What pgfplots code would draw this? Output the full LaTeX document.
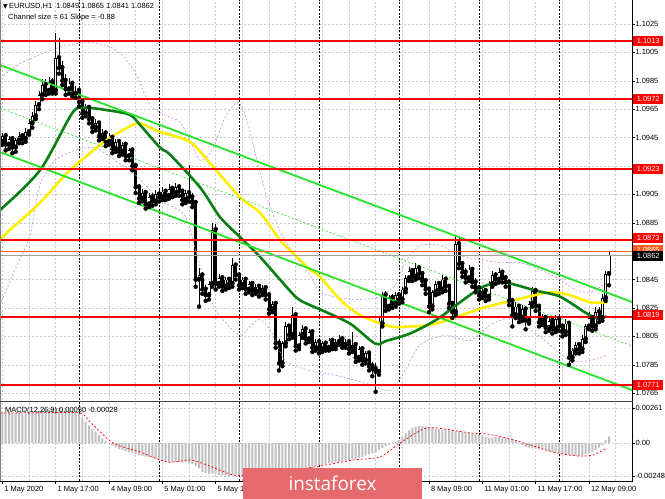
\documentclass[border=0pt]{standalone}
\usepackage{pgfplots}
\pgfplotsset{compat=1.18}
\usepackage{pgfplotstable}
\usepackage{fontspec}
\setmainfont{Liberation Sans}
\newfontfamily\dejavu{DejaVu Sans}
\newfontfamily\wmfont{Open Sans}
\definecolor{gridgray}{RGB}{200,200,200}
\definecolor{chgreen}{RGB}{40,225,40}
\definecolor{magreen}{RGB}{10,125,20}
\definecolor{mayellow}{RGB}{255,238,0}
\definecolor{bandviolet}{RGB}{195,135,240}
\definecolor{macdgray}{RGB}{192,192,192}
\definecolor{wmred}{RGB}{228,106,110}
\definecolor{askorange}{RGB}{255,90,30}

\pgfplotstableread[row sep=\\]{
i o h l c\\
0 1.0945 1.0949 1.0939 1.0942\\ 1 1.0942 1.0948 1.0940 1.0946\\ 2 1.0946 1.0948 1.0936 1.0940\\ 3 1.0940 1.0946 1.0937 1.0944\\
4 1.0944 1.0946 1.0934 1.0938\\ 5 1.0938 1.0945 1.0935 1.0943\\ 6 1.0943 1.0949 1.0941 1.0946\\ 7 1.0946 1.0948 1.0941 1.0944\\
8 1.0944 1.0952 1.0942 1.0949\\ 9 1.0949 1.0958 1.0947 1.0955\\ 10 1.0955 1.0963 1.0952 1.0960\\ 11 1.0960 1.0971 1.0958 1.0968\\
12 1.0968 1.0978 1.0965 1.0975\\ 13 1.0975 1.0986 1.0972 1.0982\\ 14 1.0982 1.0986 1.0975 1.0978\\ 15 1.0978 1.0988 1.0976 1.0984\\
16 1.0984 1.0987 1.0976 1.0978\\ 17 1.0978 1.1019 1.0976 1.1001\\ 18 1.1001 1.1015 1.0990 1.0994\\ 19 1.0994 1.0999 1.0982 1.0985\\
20 1.0985 1.0990 1.0975 1.0979\\ 21 1.0979 1.0987 1.0976 1.0983\\ 22 1.0983 1.0985 1.0974 1.0976\\ 23 1.0976 1.0981 1.0973 1.0978\\
24 1.0978 1.0981 1.0967 1.0970\\ 25 1.0970 1.0972 1.0959 1.0962\\ 26 1.0962 1.0969 1.0960 1.0966\\ 27 1.0966 1.0968 1.0955 1.0958\\
28 1.0958 1.0960 1.0949 1.0952\\ 29 1.0952 1.0958 1.0950 1.0955\\ 30 1.0955 1.0957 1.0943 1.0946\\ 31 1.0946 1.0951 1.0944 1.0948\\
32 1.0948 1.0950 1.0939 1.0942\\ 33 1.0942 1.0948 1.0940 1.0945\\ 34 1.0945 1.0947 1.0934 1.0937\\ 35 1.0937 1.0944 1.0935 1.0942\\
36 1.0942 1.0944 1.0932 1.0935\\ 37 1.0935 1.0942 1.0933 1.0940\\ 38 1.0940 1.0942 1.0929 1.0932\\ 39 1.0932 1.0938 1.0929 1.0936\\
40 1.0936 1.0938 1.0922 1.0925\\ 41 1.0925 1.0927 1.0906 1.0910\\ 42 1.0910 1.0912 1.0899 1.0902\\ 43 1.0902 1.0909 1.0900 1.0906\\
44 1.0906 1.0908 1.0895 1.0898\\ 45 1.0898 1.0906 1.0896 1.0903\\ 46 1.0903 1.0906 1.0897 1.0900\\ 47 1.0900 1.0908 1.0898 1.0905\\
48 1.0905 1.0908 1.0900 1.0903\\ 49 1.0903 1.0910 1.0901 1.0907\\ 50 1.0907 1.0909 1.0901 1.0904\\ 51 1.0904 1.0912 1.0902 1.0909\\
52 1.0909 1.0911 1.0903 1.0906\\ 53 1.0906 1.0913 1.0904 1.0910\\ 54 1.0910 1.0912 1.0904 1.0907\\ 55 1.0907 1.0909 1.0898 1.0901\\
56 1.0901 1.0908 1.0899 1.0906\\ 57 1.0906 1.0926 1.0900 1.0903\\ 58 1.0903 1.0906 1.0896 1.0899\\ 59 1.0899 1.0901 1.0840 1.0845\\
60 1.0845 1.0853 1.0826 1.0848\\ 61 1.0848 1.0850 1.0835 1.0838\\ 62 1.0838 1.0841 1.0830 1.0834\\ 63 1.0834 1.0844 1.0831 1.0842\\
64 1.0842 1.0885 1.0840 1.0880\\ 65 1.0880 1.0884 1.0838 1.0842\\ 66 1.0842 1.0849 1.0840 1.0846\\ 67 1.0846 1.0848 1.0837 1.0840\\
68 1.0840 1.0847 1.0838 1.0845\\ 69 1.0845 1.0847 1.0839 1.0842\\ 70 1.0842 1.0860 1.0840 1.0855\\ 71 1.0855 1.0857 1.0845 1.0848\\
72 1.0848 1.0850 1.0838 1.0841\\ 73 1.0841 1.0847 1.0839 1.0845\\ 74 1.0845 1.0847 1.0835 1.0838\\ 75 1.0838 1.0844 1.0836 1.0842\\
76 1.0842 1.0844 1.0834 1.0837\\ 77 1.0837 1.0842 1.0835 1.0840\\ 78 1.0840 1.0842 1.0833 1.0836\\ 79 1.0836 1.0841 1.0834 1.0839\\
80 1.0839 1.0841 1.0831 1.0834\\ 81 1.0834 1.0836 1.0821 1.0824\\ 82 1.0824 1.0830 1.0822 1.0828\\ 83 1.0828 1.0830 1.0797 1.0800\\
84 1.0800 1.0803 1.0781 1.0786\\ 85 1.0786 1.0802 1.0784 1.0800\\ 86 1.0800 1.0815 1.0798 1.0812\\ 87 1.0812 1.0814 1.0803 1.0806\\
88 1.0806 1.0826 1.0804 1.0820\\ 89 1.0820 1.0822 1.0795 1.0798\\ 90 1.0798 1.0808 1.0796 1.0806\\ 91 1.0806 1.0813 1.0804 1.0810\\
92 1.0810 1.0812 1.0800 1.0803\\ 93 1.0803 1.0810 1.0801 1.0808\\ 94 1.0808 1.0810 1.0794 1.0797\\ 95 1.0797 1.0803 1.0795 1.0801\\
96 1.0801 1.0803 1.0793 1.0796\\ 97 1.0796 1.0802 1.0794 1.0800\\ 98 1.0800 1.0802 1.0795 1.0797\\ 99 1.0797 1.0804 1.0795 1.0802\\
100 1.0802 1.0804 1.0796 1.0798\\ 101 1.0798 1.0803 1.0796 1.0801\\ 102 1.0801 1.0806 1.0799 1.0803\\ 103 1.0803 1.0805 1.0797 1.0799\\
104 1.0799 1.0803 1.0797 1.0801\\ 105 1.0801 1.0803 1.0793 1.0796\\ 106 1.0796 1.0808 1.0794 1.0799\\ 107 1.0799 1.0801 1.0787 1.0790\\
108 1.0790 1.0798 1.0788 1.0796\\ 109 1.0796 1.0798 1.0785 1.0788\\ 110 1.0788 1.0795 1.0786 1.0793\\ 111 1.0793 1.0795 1.0781 1.0784\\
112 1.0784 1.0787 1.0777 1.0782\\ 113 1.0782 1.0786 1.0766 1.0780\\ 114 1.0780 1.0818 1.0778 1.0814\\ 115 1.0814 1.0836 1.0812 1.0834\\
116 1.0834 1.0837 1.0823 1.0826\\ 117 1.0826 1.0834 1.0824 1.0832\\ 118 1.0832 1.0835 1.0825 1.0828\\ 119 1.0828 1.0836 1.0826 1.0834\\
120 1.0834 1.0836 1.0828 1.0831\\ 121 1.0831 1.0840 1.0829 1.0838\\ 122 1.0838 1.0848 1.0836 1.0846\\ 123 1.0846 1.0854 1.0844 1.0851\\
124 1.0851 1.0853 1.0844 1.0847\\ 125 1.0847 1.0857 1.0845 1.0853\\ 126 1.0853 1.0855 1.0846 1.0849\\ 127 1.0849 1.0851 1.0841 1.0844\\
128 1.0844 1.0846 1.0835 1.0838\\ 129 1.0838 1.0840 1.0822 1.0826\\ 130 1.0826 1.0838 1.0824 1.0836\\ 131 1.0836 1.0844 1.0834 1.0842\\
132 1.0842 1.0844 1.0835 1.0838\\ 133 1.0838 1.0848 1.0836 1.0845\\ 134 1.0845 1.0847 1.0837 1.0840\\ 135 1.0840 1.0842 1.0825 1.0828\\
136 1.0828 1.0830 1.0818 1.0822\\ 137 1.0822 1.0876 1.0820 1.0870\\ 138 1.0870 1.0874 1.0853 1.0856\\ 139 1.0856 1.0858 1.0847 1.0850\\
140 1.0850 1.0853 1.0843 1.0846\\ 141 1.0846 1.0855 1.0844 1.0852\\ 142 1.0852 1.0854 1.0840 1.0843\\ 143 1.0843 1.0846 1.0836 1.0839\\
144 1.0839 1.0841 1.0831 1.0834\\ 145 1.0834 1.0840 1.0832 1.0837\\ 146 1.0837 1.0839 1.0830 1.0833\\ 147 1.0833 1.0844 1.0831 1.0842\\
148 1.0842 1.0851 1.0840 1.0848\\ 149 1.0848 1.0850 1.0842 1.0845\\ 150 1.0845 1.0853 1.0843 1.0850\\ 151 1.0850 1.0852 1.0843 1.0846\\
152 1.0846 1.0848 1.0840 1.0843\\ 153 1.0843 1.0845 1.0827 1.0830\\ 154 1.0830 1.0832 1.0812 1.0820\\ 155 1.0820 1.0829 1.0818 1.0826\\
156 1.0826 1.0828 1.0815 1.0818\\ 157 1.0818 1.0827 1.0816 1.0824\\ 158 1.0824 1.0826 1.0810 1.0816\\ 159 1.0816 1.0830 1.0814 1.0828\\
160 1.0828 1.0840 1.0826 1.0837\\ 161 1.0837 1.0839 1.0823 1.0826\\ 162 1.0826 1.0828 1.0812 1.0815\\ 163 1.0815 1.0821 1.0813 1.0818\\
164 1.0818 1.0820 1.0808 1.0811\\ 165 1.0811 1.0819 1.0809 1.0816\\ 166 1.0816 1.0818 1.0807 1.0810\\ 167 1.0810 1.0820 1.0808 1.0817\\
168 1.0817 1.0819 1.0809 1.0812\\ 169 1.0812 1.0814 1.0805 1.0808\\ 170 1.0808 1.0817 1.0806 1.0814\\ 171 1.0814 1.0816 1.0785 1.0790\\
172 1.0790 1.0797 1.0788 1.0795\\ 173 1.0795 1.0801 1.0793 1.0799\\ 174 1.0799 1.0801 1.0793 1.0796\\ 175 1.0796 1.0806 1.0794 1.0803\\
176 1.0803 1.0814 1.0801 1.0812\\ 177 1.0812 1.0822 1.0810 1.0818\\ 178 1.0818 1.0820 1.0809 1.0812\\ 179 1.0812 1.0826 1.0810 1.0822\\
180 1.0822 1.0826 1.0815 1.0818\\ 181 1.0818 1.0835 1.0816 1.0832\\ 182 1.0832 1.0851 1.0830 1.0849\\ 183 1.0849 1.0865 1.0841 1.0862\\
}\candles

\pgfplotstableread[row sep=\\]{
i m\\
0 0.00230\\ 1 0.00232\\ 2 0.00228\\ 3 0.00230\\ 4 0.00226\\ 5 0.00224\\ 6 0.00222\\ 7 0.00220\\ 8 0.00220\\ 9 0.00222\\
10 0.00226\\ 11 0.00232\\ 12 0.00238\\ 13 0.00244\\ 14 0.00246\\ 15 0.00250\\ 16 0.00250\\ 17 0.00261\\ 18 0.00260\\ 19 0.00256\\
20 0.00250\\ 21 0.00246\\ 22 0.00238\\ 23 0.00232\\ 24 0.00220\\ 25 0.00190\\ 26 0.00160\\ 27 0.00132\\ 28 0.00105\\ 29 0.00085\\
30 0.00060\\ 31 0.00035\\ 32 0.00015\\ 33 0.00002\\ 34 -0.00020\\ 35 -0.00035\\ 36 -0.00045\\ 37 -0.00052\\ 38 -0.00062\\ 39 -0.00068\\
40 -0.00075\\ 41 -0.00085\\ 42 -0.00092\\ 43 -0.00098\\ 44 -0.00102\\ 45 -0.00105\\ 46 -0.00110\\ 47 -0.00118\\ 48 -0.00125\\ 49 -0.00132\\
50 -0.00140\\ 51 -0.00142\\ 52 -0.00142\\ 53 -0.00140\\ 54 -0.00140\\ 55 -0.00142\\ 56 -0.00145\\ 57 -0.00150\\ 58 -0.00155\\ 59 -0.00170\\
60 -0.00190\\ 61 -0.00215\\ 62 -0.00225\\ 63 -0.00232\\ 64 -0.00228\\ 65 -0.00235\\ 66 -0.00240\\ 67 -0.00242\\ 68 -0.00244\\ 69 -0.00246\\
70 -0.00240\\ 71 -0.00242\\ 72 -0.00244\\ 73 -0.00245\\ 74 -0.00246\\ 75 -0.00246\\ 76 -0.00245\\ 77 -0.00244\\ 78 -0.00242\\ 79 -0.00240\\
80 -0.00240\\ 81 -0.00242\\ 82 -0.00244\\ 83 -0.00246\\ 84 -0.00248\\ 85 -0.00245\\ 86 -0.00240\\ 87 -0.00235\\ 88 -0.00228\\ 89 -0.00225\\
90 -0.00218\\ 91 -0.00210\\ 92 -0.00200\\ 93 -0.00192\\ 94 -0.00185\\ 95 -0.00175\\ 96 -0.00164\\ 97 -0.00160\\ 98 -0.00155\\ 99 -0.00152\\
100 -0.00148\\ 101 -0.00145\\ 102 -0.00142\\ 103 -0.00138\\ 104 -0.00132\\ 105 -0.00128\\ 106 -0.00122\\ 107 -0.00118\\ 108 -0.00112\\ 109 -0.00105\\
110 -0.00095\\ 111 -0.00085\\ 112 -0.00075\\ 113 -0.00070\\ 114 -0.00050\\ 115 -0.00037\\ 116 -0.00025\\ 117 -0.00012\\ 118 0.00002\\ 119 0.00010\\
120 0.00022\\ 121 0.00045\\ 122 0.00075\\ 123 0.00095\\ 124 0.00112\\ 125 0.00122\\ 126 0.00127\\ 127 0.00125\\ 128 0.00122\\ 129 0.00119\\
130 0.00112\\ 131 0.00108\\ 132 0.00104\\ 133 0.00102\\ 134 0.00100\\ 135 0.00097\\ 136 0.00092\\ 137 0.00090\\ 138 0.00088\\ 139 0.00082\\
140 0.00078\\ 141 0.00075\\ 142 0.00070\\ 143 0.00065\\ 144 0.00060\\ 145 0.00052\\ 146 0.00045\\ 147 0.00037\\ 148 0.00040\\ 149 0.00043\\
150 0.00045\\ 151 0.00042\\ 152 0.00038\\ 153 0.00034\\ 154 0.00030\\ 155 0.00015\\ 156 0.00002\\ 157 -0.00015\\ 158 -0.00030\\ 159 -0.00035\\
160 -0.00040\\ 161 -0.00042\\ 162 -0.00045\\ 163 -0.00050\\ 164 -0.00055\\ 165 -0.00060\\ 166 -0.00065\\ 167 -0.00070\\ 168 -0.00075\\ 169 -0.00080\\
170 -0.00085\\ 171 -0.00090\\ 172 -0.00093\\ 173 -0.00096\\ 174 -0.00097\\ 175 -0.00092\\ 176 -0.00085\\ 177 -0.00075\\ 178 -0.00068\\ 179 -0.00052\\
180 -0.00035\\ 181 -0.00015\\ 182 0.00020\\ 183 0.00050\\
}\macd

\begin{document}
\begin{tikzpicture}
\path[use as bounding box] (0bp,0bp) rectangle (665bp,499bp);
\fill[white] (0bp,0bp) rectangle (665bp,499bp);

% ---------------- main price panel ----------------
\begin{axis}[
  at={(0bp,99bp)}, anchor=south west, scale only axis,
  width=632bp, height=400bp,
  xmin=0.3, xmax=189.9, ymin=1.07602, ymax=1.10419,
  axis line style={draw=none},
  xtick={1,17,...,177}, minor xtick={9,25,...,185}, xticklabels={},
  xtick style={draw=none}, minor tick length=0pt,
  xmajorgrids, xminorgrids, ymajorgrids,
  grid style={gridgray, dash pattern=on 2bp off 2bp, line width=0.5bp},
  minor grid style={gridgray, dash pattern=on 2bp off 2bp, line width=0.5bp},
  extra x ticks={24,48,72,96,120,144,168}, extra x tick labels={},
  extra x tick style={grid=major, major grid style={black, dash pattern=on 2bp off 1.5bp, line width=0.6bp}, xtick style={draw=none}},
  ytick={1.0765,1.0785,1.0805,1.0825,1.0845,1.0865,1.0885,1.0905,1.0925,1.0945,1.0965,1.0985,1.1005,1.1025},
  yticklabels={1.0765,1.0785,1.0805,1.0825,1.0845,,1.0885,1.0905,,1.0945,1.0965,1.0985,1.1005,1.1025},
  ytick pos=right, yticklabel pos=right, tick align=outside, major tick length=3bp,
  ytick style={black, line width=0.5bp},
  yticklabel style={font=\fontsize{7.5}{9}\selectfont, anchor=west, xshift=-3bp},
]
% candles: wicks, bodies, hollow interiors of rising candles
\addplot[only marks, mark=none, forget plot, error bars/.cd, y dir=plus, y explicit, error mark=none,
  error bar style={black, line width=0.7bp}]
  table[x=i, y=l, y error plus expr={\thisrow{h}-\thisrow{l}}] {\candles};
\addplot[only marks, mark=none, forget plot, error bars/.cd, y dir=plus, y explicit, error mark=none,
  error bar style={black, line width=3bp}]
  table[x=i, y expr={min(\thisrow{o},\thisrow{c})}, y error plus expr={max(abs(\thisrow{c}-\thisrow{o}),0.00006)}] {\candles};
\addplot[only marks, mark=none, forget plot, error bars/.cd, y dir=plus, y explicit, error mark=none,
  error bar style={white, line width=1.3bp}]
  table[x=i, y expr={\thisrow{o}+0.00006}, y error plus expr={max(\thisrow{c}-\thisrow{o}-0.00012,0)}] {\candles};

% envelope bands
\addplot[bandviolet, line width=0.6bp, dash pattern=on 2bp off 2bp, smooth, tension=0.4] coordinates {
(0.3,1.0987)(6.3,1.0997)(13.8,1.1005)(20.4,1.1010)(27.3,1.1012)(33.3,1.1009)(36.9,1.1003)(40.8,1.0991)(45.3,1.0968)
(49.8,1.0961)(54.3,1.0956)(57.3,1.0943)(60.3,1.0929)(63.9,1.0936)(67.8,1.0959)(71.7,1.0970)(74.4,1.0957)(77.4,1.0929)
(80.7,1.0901)(84.3,1.0879)(88.8,1.0862)(93.3,1.0848)(96.3,1.0836)(102.3,1.0832)(108.3,1.0831)(114.3,1.0833)(118.8,1.0841)
(121.8,1.0857)(126.3,1.0869)(132.3,1.0869)(138.3,1.0862)(144.3,1.0859)(150.3,1.0857)(156.3,1.0857)(162.3,1.0852)
(168.3,1.0845)(172.8,1.0838)(177.3,1.0836)(182.4,1.0843)};
\addplot[bandviolet, line width=0.6bp, dash pattern=on 2bp off 2bp, smooth, tension=0.4] coordinates {
(0.3,1.0827)(4.8,1.0852)(9.3,1.0876)(12.3,1.0912)(16.8,1.0929)(22.8,1.0936)(28.8,1.0938)(34.8,1.0929)(40.8,1.0919)
(48.3,1.0901)(55.8,1.0890)(60.3,1.0855)(64.8,1.0824)(72.3,1.0806)(77.7,1.0817)(81.3,1.0810)(85.8,1.0788)(93.3,1.0781)
(102.3,1.0777)(111.3,1.0771)(117.3,1.0767)(121.8,1.0781)(126.3,1.0799)(133.8,1.0806)(141.3,1.0802)(147.3,1.0813)
(153.3,1.0818)(159.3,1.0810)(165.3,1.0799)(171.3,1.0788)(177.3,1.0788)(182.4,1.0792)};

% moving averages
\addplot[mayellow, line width=2.6bp, smooth, tension=0.5] coordinates {
(0.3,1.0873)(3.3,1.0880)(12.3,1.0899)(20.4,1.0920)(27.3,1.0934)(33.3,1.0945)(41.4,1.0955)(45.3,1.0952)(48.3,1.0949)
(57.3,1.0942)(63.3,1.0927)(72.3,1.0903)(78.3,1.0892)(84.3,1.0873)(89.4,1.0861)(93.3,1.0852)(96.3,1.0847)(102.3,1.0831)
(108.3,1.0820)(117.3,1.0812)(123.3,1.0812)(129.3,1.0813)(135.3,1.0817)(145.2,1.0825)(155.4,1.0831)(165.3,1.0836)
(171.3,1.0834)(177.3,1.0829)(182.4,1.0829)};
\addplot[magreen, line width=2.6bp, smooth, tension=0.5] coordinates {
(0.3,1.0894)(12.3,1.0922)(21.9,1.0962)(25.8,1.0966)(33.3,1.0964)(39.3,1.0961)(42.3,1.0954)(48.3,1.0938)(51.3,1.0933)
(60.3,1.0910)(66.3,1.0889)(72.3,1.0875)(78.3,1.0861)(84.3,1.0845)(89.4,1.0832)(93.3,1.0827)(96.3,1.0824)(105.3,1.0814)
(112.8,1.0800)(116.4,1.0802)(123.3,1.0807)(131.4,1.0817)(138.3,1.0829)(145.2,1.0840)(151.2,1.0843)(155.4,1.0841)
(161.4,1.0837)(168.3,1.0833)(176.4,1.0821)(179.4,1.0818)(182.4,1.0819)};

% regression channel
\addplot[chgreen, line width=1.8bp] coordinates {(0.3,1.09961)(189.9,1.08292)};
\addplot[chgreen, line width=1.8bp] coordinates {(0.3,1.09349)(189.9,1.07672)};
\addplot[chgreen, line width=0.6bp, dash pattern=on 2bp off 2bp] coordinates {(0.3,1.09658)(189.9,1.07982)};

% horizontal levels
\addplot[askorange, line width=0.6bp] coordinates {(0.3,1.08648)(189.9,1.08648)};
\addplot[gridgray!80!black, line width=0.6bp] coordinates {(0.3,1.0862)(189.9,1.0862)};
\addplot[red, line width=2bp] coordinates {(0.3,1.1013)(189.9,1.1013)};
\addplot[red, line width=2bp] coordinates {(0.3,1.0972)(189.9,1.0972)};
\addplot[red, line width=2bp] coordinates {(0.3,1.0923)(189.9,1.0923)};
\addplot[red, line width=2bp] coordinates {(0.3,1.0873)(189.9,1.0873)};
\addplot[red, line width=2bp] coordinates {(0.3,1.0819)(189.9,1.0819)};
\addplot[red, line width=2bp] coordinates {(0.3,1.0771)(189.9,1.0771)};
\end{axis}

% ---------------- MACD panel ----------------
\begin{axis}[
  at={(0bp,18bp)}, anchor=south west, scale only axis,
  width=632bp, height=79bp,
  xmin=0.3, xmax=189.9, ymin=-0.002835, ymax=0.003059,
  axis line style={draw=none},
  xtick={1,17,...,177}, minor xtick={9,25,...,185},
  xticklabels={1 May 2020,1 May 17:00,4 May 09:00,5 May 01:00,5 May 17:00,,,,8 May 09:00,11 May 01:00,11 May 17:00,12 May 09:00},
  xtick pos=bottom, tick align=outside, major tick length=3bp, minor tick length=0pt,
  xtick style={black, line width=0.5bp},
  xticklabel style={font=\fontsize{7.5}{9}\selectfont, anchor=north west, xshift=-1.5bp, yshift=1bp},
  xmajorgrids, xminorgrids, ymajorgrids,
  grid style={gridgray, dash pattern=on 2bp off 2bp, line width=0.5bp},
  minor grid style={gridgray, dash pattern=on 2bp off 2bp, line width=0.5bp},
  extra x ticks={24,48,72,96,120,144,168}, extra x tick labels={},
  extra x tick style={grid=major, major grid style={black, dash pattern=on 2bp off 1.5bp, line width=0.6bp}, major tick length=0pt},
  ytick={-0.00248,0,0.00261}, yticklabels={-0.00248,0.00,0.00261},
  ytick pos=right, yticklabel pos=right,
  ytick style={black, line width=0.5bp},
  yticklabel style={font=\fontsize{7.5}{9}\selectfont, anchor=west, xshift=-3bp},
  scaled y ticks=false,
]
\addplot[ybar, bar width=2bp, bar shift=0pt, fill=macdgray, draw=none] table[x=i, y=m] {\macd};
\addplot[red, line width=0.7bp, dash pattern=on 2bp off 2bp, smooth, tension=0.4] coordinates {
(0.3,0.00224)(12,0.00226)(24.3,0.00224)(27.3,0.00157)(34.2,0.00000)(42.3,-0.00067)(50.4,-0.00142)(57.3,-0.00127)
(62.4,-0.00164)(70.2,-0.00239)(75.3,-0.00239)(85.8,-0.00210)(96.3,-0.00172)(106.2,-0.00127)(114.3,-0.00104)
(120.3,0.00000)(127.2,0.00104)(131.4,0.00112)(141.3,0.00075)(146.4,0.00067)(152.4,0.00037)(158.4,-0.00007)
(166.2,-0.00067)(173.4,-0.00097)(178.2,-0.00090)(182.4,-0.00037)};
\end{axis}

% ---------------- annotations in pixel coordinates ----------------
\begin{scope}[x=1bp, y=-1bp, shift={(0bp,499bp)}]
  \draw[gray, line width=1bp] (0.5,0) -- (0.5,481);
  \draw[black, line width=1bp] (632.5,0) -- (632.5,481.5);
  \draw[black!75, line width=1.5bp] (0,401.5) -- (633,401.5);
  \draw[black, line width=1bp] (0,481.5) -- (633,481.5);
  % price tags
  \tikzset{tag/.style={anchor=west, inner xsep=1.2bp, inner ysep=0.8bp, minimum height=10bp, minimum width=30bp, text=white, font=\fontsize{7.5}{8}\selectfont}}
  \node[tag, fill=askorange] at (633,250) {1.0865};
  \node[tag, fill=red] at (633,41) {1.1013};
  \node[tag, fill=red] at (633,99) {1.0972};
  \node[tag, fill=red] at (633,169) {1.0923};
  \node[tag, fill=red] at (633,238) {1.0873};
  \node[tag, fill=black] at (633,256) {1.0862};
  \node[tag, fill=red] at (633,315) {1.0819};
  \node[tag, fill=red] at (633,385) {1.0771};
  % headers
  \node[anchor=west, inner sep=0pt, font=\fontsize{7.5}{8}\selectfont] at (3,6.5)
    {{\dejavu\fontsize{6}{6}\selectfont ▼}\,EURUSD,H1\ \ 1.0849 1.0865 1.0841 1.0862};
  \node[anchor=west, inner sep=0pt, font=\fontsize{7.5}{8}\selectfont] at (8,17.5) {Channel size = 61 Slope = -0.88};
  \node[anchor=west, inner sep=0pt, font=\fontsize{7.5}{8}\selectfont] at (5,410.5) {MACD(12,26,9) 0.00050 -0.00028};
  % watermark
  \fill[wmred] (243,468) rectangle (422,499);
  \node[text=white, font=\wmfont\fontsize{19}{19}\selectfont, inner sep=0pt] at (332.5,483) {instaforex};
\end{scope}
\end{tikzpicture}
\end{document}
